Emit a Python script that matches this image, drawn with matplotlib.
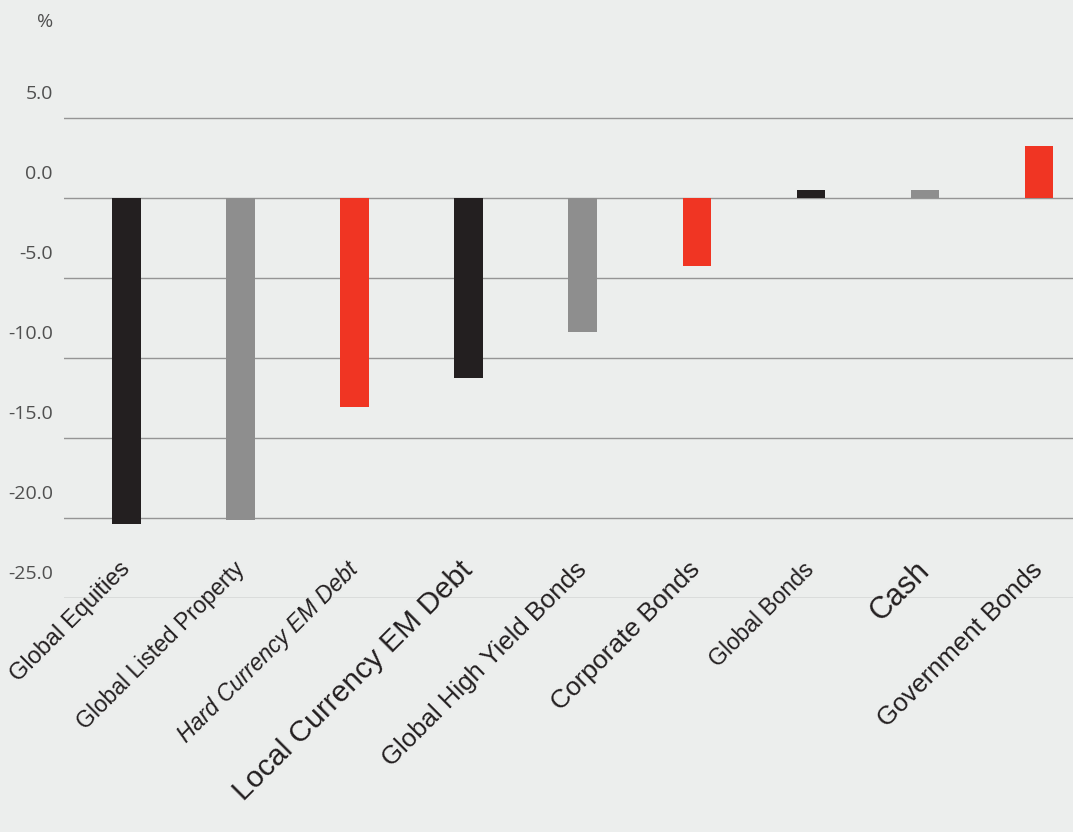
import matplotlib
matplotlib.use('Agg')
import matplotlib.pyplot as plt
import matplotlib.transforms as mtransforms

# data
categories = ['Global Equities', 'Global Listed Property', 'Hard Currency EM Debt',
              'Local Currency EM Debt', 'Global High Yield Bonds', 'Corporate Bonds',
              'Global Bonds', 'Cash', 'Government Bonds']
returns = [-20.4, -20.1, -13.1, -11.25, -8.4, -4.25, 0.5, 0.5, 3.25]
yticks = [5, 0, -5, -10, -15, -20, -25]

black = '#231f20'
grey = '#8e8e8e'
red = '#f03523'
bar_colors = [black, grey, red] * 3
bg = '#eceeed'

# per-label look (the source mixes fonts and sizes)
label_sizes = [17, 16.5, 16.5, 21.5, 18.5, 19, 16.5, 22, 18.5]
label_styles = ['normal', 'normal', 'italic', 'normal', 'normal', 'normal', 'normal', 'normal', 'normal']

fig = plt.figure(figsize=(10.73, 8.32), dpi=100, facecolor=bg)
ax = fig.add_axes([64/1073, 1-598/832, 1-64/1073, (598-60)/832])
ax.set_facecolor(bg)

x = list(range(len(categories)))
ax.bar(x, returns, width=0.25, color=bar_colors, zorder=3)

ax.set_xlim(-0.55, 8.3)
ax.set_ylim(-25, 8.6)
ax.set_yticks(yticks)
ax.set_yticklabels(['%.1f' % v for v in yticks], fontsize=14, color='#505050',
                   fontfamily='Open Sans')
ax.tick_params(axis='y', length=0, pad=8)
ax.tick_params(axis='x', length=0, labelbottom=False)
offset = mtransforms.ScaledTranslation(0, 26/100, fig.dpi_scale_trans)
for lab in ax.get_yticklabels():
    lab.set_transform(lab.get_transform() + offset)

ax.grid(axis='y', color='#959595', lw=1.0, zorder=1)
for s in ax.spines.values():
    s.set_visible(False)

for i, name in enumerate(categories):
    ax.text(i, -23.0, name, rotation=45, rotation_mode='anchor', ha='right', va='center',
            fontsize=label_sizes[i], family='Liberation Sans', style=label_styles[i],
            color='#231f20', clip_on=False)

fig.text(45/1073, 1-22/832, '%', ha='center', va='center', fontsize=14,
         color='#505050', fontfamily='Open Sans')

fig.savefig('out.png', dpi=100, facecolor=bg)
